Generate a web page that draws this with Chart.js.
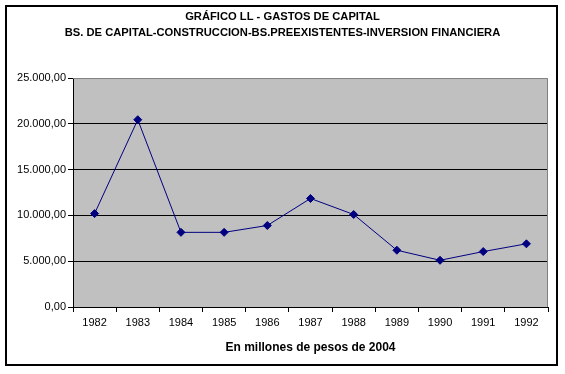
<!DOCTYPE html>
<html>
<head>
<meta charset="utf-8">
<script src="https://cdn.jsdelivr.net/npm/chart.js@4"></script>
<style>
  body { margin: 0; background: #fff; }
</style>
</head>
<body>
<canvas id="chart" width="565" height="374"></canvas>
<script>
const years = ["1982", "1983", "1984", "1985", "1986", "1987", "1988", "1989", "1990", "1991", "1992"];
const gastos = [10200, 20450, 8150, 8150, 8900, 11850, 10100, 6200, 5100, 6050, 6900];
const yTicks = [0, 5000, 10000, 15000, 20000, 25000];
const titleLines = [
  "GRÁFICO LL - GASTOS DE CAPITAL",
  "BS. DE CAPITAL-CONSTRUCCION-BS.PREEXISTENTES-INVERSION FINANCIERA",
];
const xTitle = "En millones de pesos de 2004";

const FONT = "'Liberation Sans', Arial, sans-serif";

// 25000 -> "25.000,00"
const fmt = (v) => {
  const [i, d] = v.toFixed(2).split(".");
  return i.replace(/\B(?=(\d{3})+(?!\d))/g, ".") + "," + d;
};

const frame = {
  id: "frame",
  // center the title on the whole canvas, not just the padded box
  afterLayout(c) {
    if (c.titleBlock) {
      c.titleBlock.left = 0;
      c.titleBlock.right = c.width;
      c.titleBlock.width = c.width;
    }
  },
  beforeDraw(c) {
    const { ctx, chartArea: a } = c;
    ctx.save();
    ctx.fillStyle = "#c0c0c0";
    ctx.fillRect(a.left, a.top, a.right - a.left, a.bottom - a.top);
    ctx.strokeStyle = "#000";
    ctx.lineWidth = 2;
    ctx.strokeRect(6, 6, 551, 359);
    ctx.restore();
  },
  beforeDatasetsDraw(c) {
    const { ctx, chartArea: a } = c;
    ctx.save();
    ctx.strokeStyle = "#808080";
    ctx.lineWidth = 1;
    ctx.beginPath();
    ctx.moveTo(a.left, a.top + 0.5);
    ctx.lineTo(a.right - 0.5, a.top + 0.5);
    ctx.lineTo(a.right - 0.5, a.bottom);
    ctx.stroke();
    ctx.restore();
  },
};

new Chart(document.getElementById("chart"), {
  type: "line",
  data: {
    labels: years,
    datasets: [
      {
        data: gastos,
        borderColor: "#000080",
        backgroundColor: "#000080",
        borderWidth: 1,
        tension: 0,
        pointStyle: "rectRot",
        pointRadius: 4,
        pointBorderWidth: 1,
      },
    ],
  },
  options: {
    responsive: false,
    animation: false,
    layout: { padding: { left: 0, top: 0, right: 17, bottom: 0 } },
    plugins: {
      legend: { display: false },
      tooltip: { enabled: false },
      title: {
        display: true,
        text: titleLines,
        color: "#000",
        font: { family: FONT, size: 11.2, weight: "bold", lineHeight: 1.43 },
        padding: { top: 9, bottom: 37 },
      },
    },
    scales: {
      x: {
        offset: true,
        afterFit: (s) => { s.height = 67; },
        grid: {
          offset: true,
          drawOnChartArea: false,
          tickLength: 5,
          tickColor: "#000",
        },
        border: { color: "#000", width: 1 },
        ticks: { color: "#000", padding: 4, font: { family: FONT, size: 11 } },
        title: {
          display: true,
          text: xTitle,
          color: "#000",
          font: { family: FONT, size: 12, weight: "bold" },
          padding: { top: 0, bottom: 19 },
        },
      },
      y: {
        min: 0,
        max: 25000,
        afterFit: (s) => { s.width = 73; },
        afterBuildTicks: (s) => { s.ticks = yTicks.map((v) => ({ value: v })); },
        grid: {
          color: (ctx) => (ctx.tick && ctx.tick.value === 25000 ? "rgba(0,0,0,0)" : "#000"),
          tickColor: "#000",
          tickLength: 5,
        },
        border: { color: "#000", width: 1 },
        ticks: {
          color: "#000",
          padding: 2,
          font: { family: FONT, size: 11 },
          callback: (v) => fmt(v),
        },
      },
    },
  },
  plugins: [frame],
});
</script>
</body>
</html>
